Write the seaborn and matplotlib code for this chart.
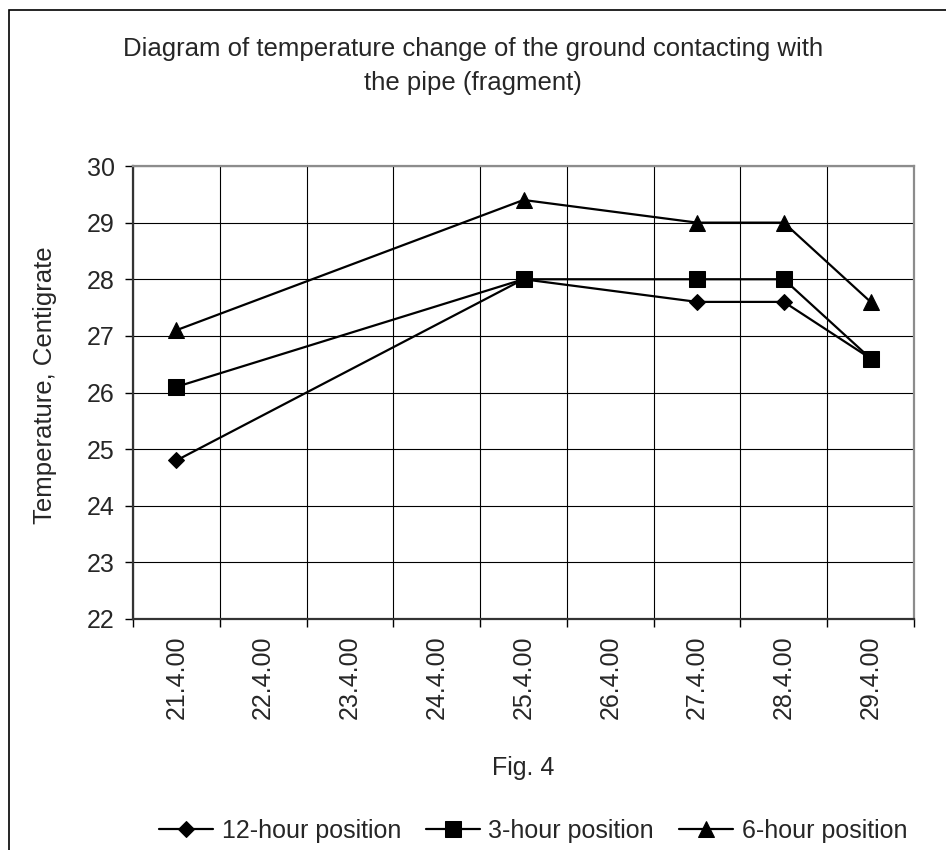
import numpy as np
import pandas as pd
import matplotlib
matplotlib.use('Agg')
import matplotlib.pyplot as plt
import seaborn as sns
from matplotlib.patches import Rectangle

# data
dates = ['21.4.00', '22.4.00', '23.4.00', '24.4.00', '25.4.00',
         '26.4.00', '27.4.00', '28.4.00', '29.4.00']
pos_12 = [24.8, np.nan, np.nan, np.nan, 28.0, np.nan, 27.6, 27.6, 26.6]
pos_3 = [26.1, np.nan, np.nan, np.nan, 28.0, np.nan, 28.0, 28.0, 26.6]
pos_6 = [27.1, np.nan, np.nan, np.nan, 29.4, np.nan, 29.0, 29.0, 27.6]
series_names = ['12-hour position', '3-hour position', '6-hour position']

sns.set_theme(style='white')
plt.rcParams['font.family'] = ['Liberation Sans', 'DejaVu Sans']
FS = 18

df = pd.DataFrame({'idx': range(len(dates)), 'date': dates,
                   series_names[0]: pos_12, series_names[1]: pos_3,
                   series_names[2]: pos_6})

fig = plt.figure(figsize=(9.46, 8.5), dpi=100)
ax = fig.add_axes([133 / 946, 1 - 619 / 850, 781 / 946, 453 / 850])

markers = {series_names[0]: ('D', 8.5), series_names[1]: ('s', 11), series_names[2]: ('^', 11)}
for name in series_names:
    sub = df[['idx', name]].dropna()
    m, ms = markers[name]
    sns.lineplot(x=sub['idx'], y=sub[name], ax=ax, color='black', lw=1.6,
                 marker=m, markersize=ms, markeredgecolor='black',
                 label=name, legend=False)

ax.set_xlim(-0.5, len(dates) - 0.5)
ax.set_ylim(22, 30)
ax.set_yticks(range(22, 31))
ax.set_xticks(range(len(dates)))
ax.set_xticklabels(dates, rotation=90, fontsize=FS)
ax.set_xticks(np.arange(-0.5, len(dates), 1), minor=True)
ax.tick_params(axis='x', which='major', length=0, pad=12)
ax.tick_params(axis='x', which='minor', length=6, width=1, color='black', direction='out', bottom=True)
ax.tick_params(axis='y', length=6, width=1, color='black', direction='out', left=True, labelsize=FS, pad=7)
ax.grid(True, axis='y', color='black', lw=0.8)
ax.grid(True, axis='x', which='minor', color='black', lw=0.8)
ax.set_xlabel('')
ax.set_ylabel('Temperature, Centigrate', fontsize=18.5)
ax.yaxis.set_label_coords((57 - 133) / 781, 0.517)
for side in ['left', 'bottom']:
    ax.spines[side].set_color('#333333')
    ax.spines[side].set_linewidth(1.6)
for side in ['top', 'right']:
    ax.spines[side].set_color('#8c8c8c')
    ax.spines[side].set_linewidth(1.6)

fig.text(473 / 946, 1 - 66 / 850,
         'Diagram of temperature change of the ground contacting with\nthe pipe (fragment)',
         ha='center', va='center', fontsize=18.5, linespacing=1.5)
fig.text(523 / 946, 1 - 768 / 850, 'Fig. 4', ha='center', va='center', fontsize=FS)

handles, labels = ax.get_legend_handles_labels()
fig.legend(handles, labels, loc='center', bbox_to_anchor=(533 / 946, 1 - 831 / 850),
           ncol=3, frameon=False, fontsize=FS, handlelength=2.15, handletextpad=0.35,
           columnspacing=1.0, borderaxespad=0, borderpad=0)

fig.add_artist(Rectangle((9 / 946, -0.05), 1.2, 1 - 10 / 850 + 0.05,
                         transform=fig.transFigure, fill=False, edgecolor='black', lw=1.2))

fig.savefig('out.png', dpi=100)
